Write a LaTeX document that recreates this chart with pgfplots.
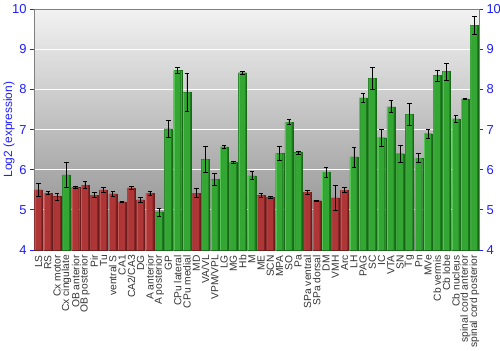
\documentclass[border=0pt]{standalone}
\usepackage{pgfplots}
\pgfplotsset{compat=1.18}
\usepackage{pgfplotstable}
\usepackage{fontspec}
\setmainfont{Liberation Sans}
\definecolor{tickblue}{HTML}{1E1EFF}
\definecolor{bgtop}{HTML}{F2F2F2}
\definecolor{bgbot}{HTML}{888888}
\definecolor{rL}{HTML}{C65858}
\definecolor{rM}{HTML}{AE3636}
\definecolor{rR}{HTML}{7E2222}
\definecolor{gL}{HTML}{58C658}
\definecolor{gM}{HTML}{34A634}
\definecolor{gR}{HTML}{1C7A1C}
\definecolor{labgray}{HTML}{333333}

\pgfplotstableread{
x y e
0 5.50 0.17
1 5.42 0.03
2 5.33 0.09
4 5.56 0.02
5 5.62 0.09
6 5.37 0.06
7 5.50 0.06
8 5.40 0.07
9 5.20 0.01
10 5.55 0.03
11 5.25 0.07
12 5.42 0.05
17 5.42 0.11
24 5.36 0.05
25 5.31 0.03
29 5.44 0.05
30 5.23 0.02
32 5.30 0.30
33 5.49 0.06
}\redtab

\pgfplotstableread{
x y e
3 5.87 0.32
13 4.94 0.09
14 7.02 0.20
15 8.48 0.08
16 7.93 0.47
18 6.26 0.33
19 5.76 0.15
20 6.57 0.04
21 6.19 0.02
22 8.42 0.03
23 5.85 0.10
26 6.41 0.17
27 7.19 0.06
28 6.43 0.04
31 5.94 0.13
34 6.32 0.25
35 7.79 0.11
36 8.28 0.27
37 6.80 0.22
38 7.57 0.15
39 6.40 0.22
40 7.38 0.27
41 6.29 0.11
42 6.90 0.12
43 8.35 0.14
44 8.45 0.21
45 7.27 0.09
46 7.77 0.02
47 9.60 0.22
}\greentab

\begin{document}
\begin{tikzpicture}[x=1bp,y=1bp]
\useasboundingbox (0,0) rectangle (500,350);
\begin{axis}[
  at={(34bp,100bp)}, anchor=south west,
  scale only axis, width=445bp, height=240.7bp,
  xmin=-0.5, xmax=47.5, ymin=4, ymax=10,
  ytick={4,5,...,10},
  xtick={0,1,...,47},
  xticklabels={LS,RS,Cx motor,Cx cingulate,OB anterior,OB posterior,Pir,Tu,ventral S,CA1,CA2/CA3,DG,A anterior,A posterior,GP,CPu lateral,CPu medial,MD,VA/VL,VPM/VPL,LG,MG,Hb,M,ME,SCN,MPA,SO,Pa,SPa ventral,SPa dorsal,DM,VMH,Arc,LH,PAG,SC,IC,VTA,SN,Tg,Pn,MVe,Cb vermis,Cb lobe,Cb nucleus,spinal cord anterior,spinal cord posterior},
  x tick label style={rotate=90, anchor=east, font=\fontsize{10.3}{11}\selectfont, text=labgray, inner sep=1bp},
  xtick style={draw=none},
  ytick pos=left,
  tick align=outside,
  major tick length=4bp,
  ytick style={tickblue, line width=0.8bp},
  yticklabel style={font=\fontsize{13}{14}\selectfont, text=tickblue},
  ylabel={Log2 (expression)},
  ylabel style={at={(axis description cs:-0.056,0.5)}, anchor=center, font=\fontsize{12}{13}\selectfont, text=tickblue},
  axis background/.style={top color=bgtop, bottom color=bgbot},
  ymajorgrids,
  grid style={white, line width=0.9bp},
  axis line style={gray, line width=0.8bp},
  /pgf/number format/assume math mode=true,
  error bars/error bar style={black, line width=0.7bp},
  error bars/error mark options={black, rotate=90, mark size=2.3bp, line width=0.7bp},
]
% red bars: dark base, light left edge, main body with error bars
\addplot[ybar, bar width=0.86, bar shift=0pt, draw=rR!85!black, line width=0.3bp, fill=rR]
  table[x=x, y=y] {\redtab};
\addplot[ybar, bar width=0.12, bar shift=-0.36, draw=none, fill=rL]
  table[x=x, y=y] {\redtab};
\addplot[ybar, bar width=0.6, bar shift=0.0, draw=none, fill=rM,
  error bars/.cd, y dir=both, y explicit]
  table[x=x, y=y, y error=e] {\redtab};
% green bars
\addplot[ybar, bar width=0.86, bar shift=0pt, draw=gR!85!black, line width=0.3bp, fill=gR]
  table[x=x, y=y] {\greentab};
\addplot[ybar, bar width=0.12, bar shift=-0.36, draw=none, fill=gL]
  table[x=x, y=y] {\greentab};
\addplot[ybar, bar width=0.6, bar shift=0.0, draw=none, fill=gM,
  error bars/.cd, y dir=both, y explicit]
  table[x=x, y=y, y error=e] {\greentab};
\end{axis}
\begin{axis}[
  at={(34bp,100bp)}, anchor=south west,
  scale only axis, width=445bp, height=240.7bp,
  xmin=-0.5, xmax=47.5, ymin=4, ymax=10,
  ytick={4,5,...,10},
  axis x line=none,
  axis y line*=right,
  axis line style={gray, line width=0.8bp, -},
  tick align=outside,
  major tick length=4bp,
  ytick style={tickblue, line width=0.8bp},
  yticklabel style={font=\fontsize{13}{14}\selectfont, text=tickblue},
  /pgf/number format/assume math mode=true,
]
\end{axis}
\end{tikzpicture}
\end{document}
